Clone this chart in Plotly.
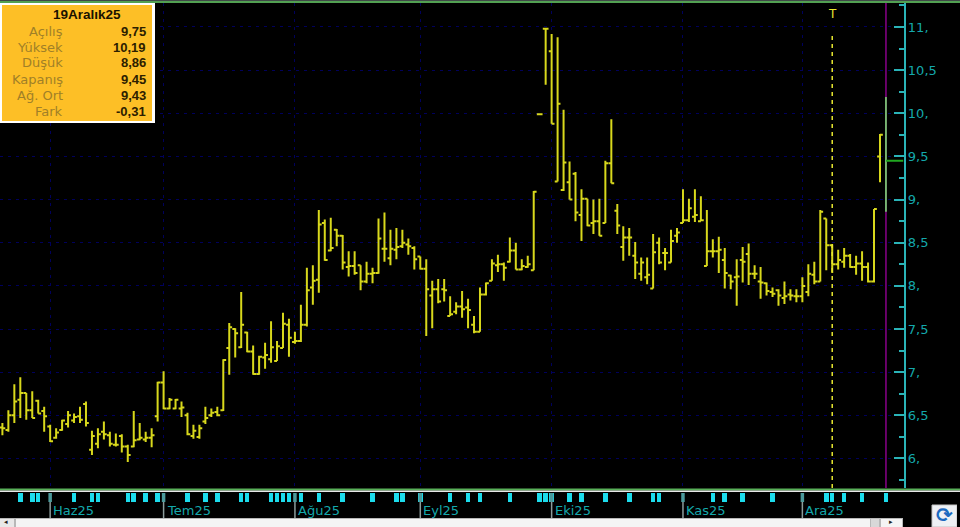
import plotly.graph_objects as go

W, H = 960, 527
opens = [6.36,6.33,6.50,6.68,6.76,6.56,6.67,6.55,6.37,6.24,6.33,6.40,6.44,6.49,6.63,6.10,6.17,6.31,6.27,6.16,6.26,6.14,6.14,6.22,6.22,6.24,6.49,6.88,
6.58,6.58,6.58,6.50,6.26,6.25,6.43,6.50,6.54,6.56,7.28,7.50,7.29,7.46,7.24,6.98,7.17,7.15,7.13,7.28,7.55,7.35,7.36,7.55,7.98,8.07,8.73,8.41,8.65,8.58,8.22,8.23,
8.24,8.05,8.14,8.15,8.43,8.32,8.42,8.46,8.48,8.44,8.34,8.20,7.89,7.96,7.96,7.65,7.70,7.76,7.75,7.55,7.47,7.90,8.06,8.24,8.25,8.28,8.41,8.19,8.22,8.18,
9.99,10.98,10.72,9.21,9.11,9.20,9.30,8.82,9.01,8.73,8.75,8.73,9.42,8.87,8.45,8.56,8.35,8.14,8.10,7.97,8.50,8.38,8.27,8.58,8.73,8.76,8.80,8.75,8.23,8.40,8.40,
8.30,8.12,8.10,8.30,8.37,8.14,8.05,8.03,7.93,7.95,7.86,7.90,7.88,7.88,7.93,8.13,8.05,8.78,8.47,8.25,8.28,8.35,8.22,8.26,8.22,8.05,9.50,9.75]
highs = [6.41,6.56,6.86,6.94,6.76,6.78,6.68,6.60,6.39,6.35,6.45,6.55,6.52,6.60,6.66,6.32,6.35,6.43,6.31,6.29,6.28,6.16,6.55,6.41,6.31,6.35,6.89,7.01,
6.70,6.69,6.66,6.53,6.39,6.39,6.60,6.58,6.60,7.15,7.57,7.51,7.93,7.47,7.31,7.19,7.34,7.59,7.36,7.69,7.62,7.47,7.78,8.21,8.24,8.88,8.77,8.79,8.66,8.59,8.40,8.40,
8.24,8.28,8.21,8.78,8.85,8.65,8.67,8.65,8.55,8.46,8.34,8.31,8.06,8.08,8.08,7.88,7.81,7.94,7.85,7.65,7.98,8.04,8.31,8.36,8.27,8.56,8.50,8.31,8.35,9.10,
9.995,10.98,10.92,10.88,10.04,9.44,9.32,9.12,9.01,9.00,9.01,9.45,9.93,8.95,8.69,8.67,8.51,8.33,8.33,8.60,8.56,8.44,8.65,8.67,9.12,9.01,9.12,9.04,8.88,8.54,8.57,
8.44,8.13,8.31,8.45,8.49,8.24,8.22,8.04,7.98,7.96,8.05,7.96,7.96,8.10,8.25,8.28,8.88,8.78,8.48,8.42,8.44,8.37,8.35,8.40,8.27,8.89,9.76,10.19]
lows = [6.27,6.31,6.41,6.47,6.45,6.47,6.52,6.31,6.19,6.23,6.32,6.36,6.41,6.41,6.37,6.04,6.12,6.22,6.14,6.14,6.07,5.96,6.13,6.21,6.19,6.13,6.43,6.57,
6.57,6.57,6.48,6.27,6.23,6.23,6.40,6.48,6.49,6.55,6.97,7.17,7.28,7.23,6.97,6.97,7.04,7.11,7.13,7.28,7.18,7.33,7.35,7.53,7.78,7.92,8.29,8.40,8.46,8.19,8.11,8.13,
7.95,8.03,8.03,8.14,8.28,8.24,8.31,8.44,8.36,8.19,8.19,7.42,7.51,7.80,7.82,7.65,7.67,7.63,7.51,7.45,7.47,7.89,8.06,8.16,8.06,8.27,8.19,8.18,8.21,8.18,
9.985,10.33,9.88,9.21,9.10,9.00,8.75,8.52,8.69,8.60,8.58,8.73,9.19,8.60,8.29,8.35,8.08,8.06,8.02,7.97,8.25,8.18,8.27,8.50,8.73,8.74,8.74,8.75,8.23,8.33,8.15,
7.97,7.96,7.77,8.04,8.01,8.08,7.85,7.89,7.87,7.77,7.79,7.83,7.81,7.81,7.88,8.02,8.05,8.18,8.15,8.19,8.21,8.21,8.13,8.06,8.04,8.04,9.20,8.86]
closes = [6.35,6.50,6.66,6.76,6.56,6.47,6.52,6.49,6.20,6.30,6.44,6.50,6.48,6.45,6.41,6.26,6.28,6.28,6.17,6.16,6.14,6.04,6.21,6.24,6.24,6.27,6.88,6.58,
6.68,6.68,6.59,6.28,6.32,6.35,6.47,6.53,6.50,7.14,7.52,7.45,7.55,7.24,6.98,7.18,7.20,7.29,7.30,7.56,7.40,7.36,7.55,7.95,8.06,8.71,8.30,8.44,8.58,8.27,8.23,8.15,
8.05,8.14,8.15,8.55,8.43,8.43,8.45,8.50,8.46,8.31,8.20,7.96,7.96,7.82,7.95,7.67,7.76,7.73,7.72,7.47,7.90,8.03,8.26,8.25,8.21,8.41,8.19,8.23,8.25,9.09,
9.99,10.98,9.88,10.11,9.43,9.00,8.85,9.01,8.70,8.75,8.58,9.42,9.19,8.70,8.56,8.56,8.27,8.27,8.13,8.39,8.27,8.38,8.52,8.62,8.76,8.90,8.82,8.76,8.40,8.40,8.42,
8.15,8.05,8.11,8.28,8.14,8.14,8.04,7.94,7.91,7.89,7.88,7.89,7.88,8.00,8.14,8.05,8.86,8.47,8.25,8.30,8.35,8.22,8.26,8.22,8.05,8.89,9.75,9.45]

month_idx = [8, 27, 49, 70, 92, 114, 134]
month_labels = ["Haz25", "Tem25", "Ağu25", "Eyl25", "Eki25", "Kas25", "Ara25"]
strip_idx = [3,5,6,12,15,16,21,22,24,26,31,34,36,40,41,45,46,47,48,50,53,57,62,66,67,70,75,78,80,85,90,91,92,95,97,101,105,
             109,110,119,121,124,129,138,139,141,144,148]
y_ticks = [6, 6.5, 7, 7.5, 8, 8.5, 9, 9.5, 10, 10.5, 11]
y_labels = ["6,", "6,5", "7,", "7,5", "8,", "8,5", "9,", "9,5", "10,", "10,5", "11,"]
y_minor = [5.75, 6.25, 6.75, 7.25, 7.75, 8.25, 8.75, 9.25, 9.75, 10.25, 10.75, 11.25]
box_title = "19Aralık25"
box_labels = ["Açılış", "Yüksek", "Düşük", "Kapanış", "Ağ. Ort", "Fark"]
box_values = ["9,75", "10,19", "8,86", "9,45", "9,43", "-0,31"]
marker_idx = 139

X0, X1 = -0.402, 150.94
YMIN, YMAX = 5.658, 11.278
TEAL = "#14a8ac"
YEL = "#d8d81c"
GRID = "#00005c"
px = lambda v: v / W
py = lambda v: 1 - v / H
x = list(range(len(opens)))

fig = go.Figure()
fig.add_trace(go.Ohlc(x=x[:-1], open=opens[:-1], high=highs[:-1], low=lows[:-1], close=closes[:-1],
                      increasing=dict(line=dict(color=YEL, width=2)),
                      decreasing=dict(line=dict(color=YEL, width=2)),
                      tickwidth=0.48, hoverinfo="skip", showlegend=False, xaxis="x", yaxis="y"))
fig.add_trace(go.Scatter(x=[x[-1], x[-1]], y=[YMIN, YMAX], mode="lines",
                         line=dict(color="#800080", width=1.6), hoverinfo="skip", showlegend=False))
fig.add_trace(go.Scatter(x=[x[-1], x[-1]], y=[lows[-1], highs[-1]], mode="lines",
                         line=dict(color="#78d870", width=1.6), hoverinfo="skip", showlegend=False))
fig.add_trace(go.Scatter(x=[x[-1], X1], y=[closes[-1], closes[-1]], mode="lines",
                         line=dict(color="#20a820", width=1.8), hoverinfo="skip", showlegend=False))
fig.add_trace(go.Scatter(x=[marker_idx, marker_idx], y=[YMIN, 10.94], mode="lines",
                         line=dict(color="#e8e830", width=1.5, dash="4px,4px"), hoverinfo="skip", showlegend=False))
fig.add_trace(go.Bar(x=strip_idx, y=[1] * len(strip_idx), width=0.76, marker=dict(color="#1cdcec", line=dict(width=0)),
                     hoverinfo="skip", showlegend=False, xaxis="x2", yaxis="y2"))

shapes = []
def rect(x0, y0, x1, y1, fill, line=None, lw=0):
    shapes.append(dict(type="rect", xref="paper", yref="paper", x0=px(x0), x1=px(x1), y0=py(y1), y1=py(y0),
                       fillcolor=fill, line=dict(color=line or fill, width=lw), layer="above"))
rect(0, 0, W, 1, "#404848")
rect(0, 1, W, 3, "#52a052")
rect(0, 488.5, W, 490.5, "#58b058")
rect(0, 490.5, W, 492, "#e8e8e8")
rect(0, 518, W, 527, "#b8b8b8")
rect(16, 519, 870, 527, "#f4f4f4")
rect(0, 519, 14, 527, "#e8e8e8")
rect(871, 519, 879, 527, "#d8d8d8")
rect(881, 519, 902, 527, "#f4f4f4")
rect(903, 518, 932, 527, "#000000")
rect(932, 505, 957, 527, "#eef0f4", "#c4c4c4", 1)
rect(957, 505, 960, 527, "#000000")
# info box
rect(0, 3, 155, 123, "#ffffff")
rect(2, 5, 152, 121, "#fdbf26")
for m in month_idx:
    shapes.append(dict(type="line", xref="x", yref="paper", x0=m, x1=m, y0=py(518), y1=py(493),
                       line=dict(color="#8c9c9c", width=1.5), layer="above"))
    shapes.append(dict(type="line", xref="x", yref="paper", x0=m, x1=m, y0=py(502), y1=py(493),
                       line=dict(color="#4c9a9c", width=3.5), layer="above"))

ann = []
def text(s, xp, yp, size, color, anchor="left", family="DejaVu Sans"):
    ann.append(dict(text=s, xref="paper", yref="paper", x=px(xp), y=py(yp), showarrow=False, xanchor=anchor,
                    yanchor="middle", font=dict(size=size, color=color, family=family)))
for m, lab in zip(month_idx, month_labels):
    ann.append(dict(text=lab, xref="x", yref="paper", x=m, y=py(510), showarrow=False, xanchor="left", yanchor="middle",
                    xshift=1, font=dict(size=13, color=TEAL, family="DejaVu Sans")))
ann.append(dict(text="T", xref="x", yref="paper", x=marker_idx, y=py(14), showarrow=False, xanchor="center", yanchor="middle",
                font=dict(size=12, color="#e8e830", family="DejaVu Sans")))
text("<b>" + box_title + "</b>", 87, 15, 13.5, "#1a1200", "center", "Liberation Sans")
rows = [31, 47, 63, 79, 95, 111]
for yy, lab, val in zip(rows, box_labels, box_values):
    text(lab, 65, yy, 13, "#a08028", "right")
    text("<b>" + val + "</b>", 148, yy, 13, "#2c2000", "right", "Liberation Sans")
text("<b>⟳</b>", 944.5, 515, 20, "#1c6ac0", "center")
text("▸", 891, 522, 7, "#202020", "center")
text("◂", 6, 522, 7, "#202020", "center")

fig.update_layout(
    width=W, height=H, autosize=False, margin=dict(l=0, r=0, t=0, b=0),
    paper_bgcolor="#000000", plot_bgcolor="#000000", showlegend=False, bargap=0,
    shapes=shapes, annotations=ann, hovermode=False,
    xaxis=dict(domain=[0, px(903.5)], range=[X0, X1], rangeslider=dict(visible=False), tickmode="array",
               tickvals=month_idx, ticks="", showticklabels=False, showgrid=True, gridcolor=GRID, griddash="3px,5px",
               gridwidth=1, zeroline=False, showline=False, anchor="y"),
    yaxis=dict(domain=[py(488), py(3)], range=[YMIN, YMAX], side="right", anchor="x", tickmode="array", tickvals=y_ticks,
               ticktext=y_labels, ticks="inside", ticklen=10, tickcolor="#2ab4b8", tickwidth=1.5,
               tickfont=dict(size=13, color=TEAL, family="DejaVu Sans"), showline=True, linecolor="#2ab4b8", linewidth=1.5,
               showgrid=True, gridcolor=GRID, griddash="3px,5px", gridwidth=1, zeroline=False,
               minor=dict(tickmode="array", tickvals=y_minor, ticks="inside", ticklen=5, tickcolor="#2ab4b8", tickwidth=1.5, showgrid=False)),
    xaxis2=dict(domain=[0, px(903.5)], range=[X0, X1], visible=False, anchor="y2"),
    yaxis2=dict(domain=[py(502), py(493)], range=[0, 1], visible=False, anchor="x2"),
)
fig.write_html("out.html", config=dict(displayModeBar=False),
               post_script="document.body.style.margin='0';document.body.style.overflow='hidden';")
